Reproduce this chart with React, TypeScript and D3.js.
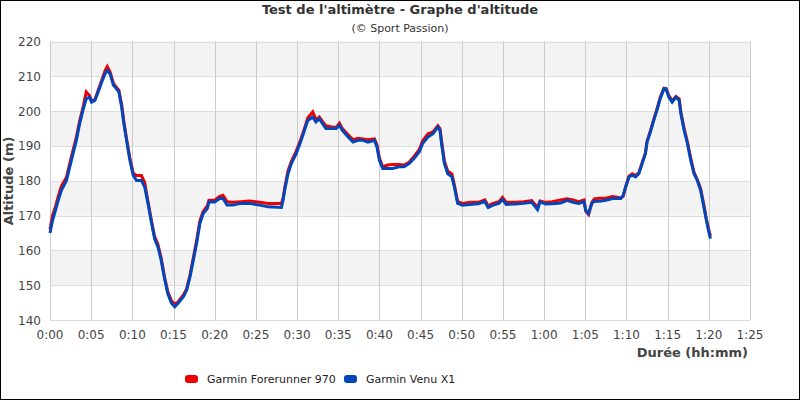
import React from "react";
import * as d3 from "d3";

const minutes = [0.0,0.3,0.6,1.0,1.4,2.0,2.4,2.8,3.2,3.6,4.0,4.4,4.8,5.05,5.45,5.85,6.27,6.67,6.95,7.3,7.7,8.08,8.36,8.7,8.97,9.3,9.7,10.1,10.5,11.1,11.5,11.9,12.3,12.7,13.1,13.5,13.9,14.3,14.75,15.15,15.55,16.2,16.6,17.0,17.4,17.8,18.2,18.6,19.1,19.3,20.0,20.6,21.0,21.5,22.2,23.2,24.2,25.45,26.5,28.1,28.3,28.5,28.9,29.3,29.9,30.5,30.9,31.3,31.9,32.3,32.7,33.1,33.5,34.1,34.75,35.15,35.5,36.2,36.8,37.4,38.0,38.6,39.4,39.7,40.0,40.4,41.0,41.6,42.4,43.0,43.6,44.2,44.85,45.25,45.9,46.5,47.1,47.35,47.6,47.9,48.3,48.8,49.1,49.5,50.1,51.0,52.0,52.8,53.2,53.8,54.5,54.95,55.4,56.5,57.5,58.5,59.2,59.5,60.2,61.0,62.0,62.8,63.5,64.2,64.85,65.05,65.4,65.8,66.1,66.7,67.5,68.3,68.9,69.3,69.6,69.9,70.3,70.7,71.1,71.5,71.9,72.3,72.5,72.9,73.3,73.7,74.1,74.55,74.8,75.15,75.55,76.0,76.4,76.6,77.0,77.4,77.8,78.2,78.6,79.0,79.4,79.7,80.0,80.2];

const venuAlt = [165.0,168.5,171,174.4,177.3,180.1,184,187.8,191.6,196.4,200.2,203.6,204,202.6,203.1,205.5,208.3,210.7,211.7,210.7,207.4,206.4,205.5,201.2,196.4,191.6,185.9,181.6,180.1,180.1,178.2,173.5,168.2,163.4,161,157.2,152,147.6,144.8,143.8,144.8,146.7,148.6,152.4,157.2,162,167.7,170.6,172,173.9,173.9,174.9,174.9,173,173,173.5,173.5,173,172.5,172.3,174.4,177.3,182,184.9,187.8,191.6,194.5,197.3,198.3,196.9,197.8,196.4,195,195,195,195.9,194.5,192.6,191.1,191.6,191.6,191.1,191.6,189.7,185.9,183.5,183.5,183.5,184,184,184.9,186.4,188.3,190.7,192.6,193.5,195.4,194.5,189.7,184.9,182,181.1,178.2,173.5,173,173.2,173.4,174,172.3,173,173.5,174.6,173.2,173.3,173.5,173.8,171.7,173.9,173.3,173.4,173.6,174.4,173.8,173.5,174,171.5,170.6,173.5,174.1,174.1,174.4,174.9,174.9,174.9,175.8,178.2,181.1,181.6,181.1,182,184.9,187.8,191.1,194,197.3,200.2,203.6,206.4,206.4,204,202.6,204,203.1,199.3,194.5,190.7,185.9,182,180.1,177.3,172.5,168.7,165.3,163.4];

const forerunnerAlt = [166.0,170,172,175.5,178.5,181,185,188.8,192.5,197.2,201,205.5,204.5,203.0,203.3,206,208.8,211.5,212.8,211.2,208,206.8,206,201.8,197,192,186.5,182.2,181.5,181.5,179.5,174,168.8,164,161.8,157.8,152.5,148.2,145.5,144.6,145.2,147.2,149,153,157.8,162.8,168.5,171.2,172.8,174.4,174.4,175.5,175.8,174,173.8,174,174.2,173.8,173.5,173.5,175,178,182.8,185.5,188.5,192.2,195,198,199.8,197.5,198.3,197,195.8,195.5,195.3,196.5,195,193.2,191.8,192.2,192,191.8,192,190.3,186.5,184,184.5,184.7,184.7,184.5,185.3,187,189,191.5,193.5,194,195.8,195,190.5,185.5,182.8,182,178.8,174,173.5,173.8,173.8,174.5,172.8,173.5,174,175.2,173.8,173.8,174,174.3,172.3,174.2,173.8,174,174.5,174.8,174.5,174,174.5,171.3,170.3,173.8,174.8,175,175,175.5,175.3,175,175.5,178.2,181.3,182,181.5,182.3,185.2,188,191.3,194.3,197.5,200.6,204,206.6,206.5,204.5,203,204.2,203.5,199.8,195,191.2,186.5,182.5,180.3,177.8,173,169,165.8,164.2];

const yTicks = [140,150,160,170,180,190,200,210,220];
const xTicks = [0,5,10,15,20,25,30,35,40,45,50,55,60,65,70,75,80,85];
const seriesNames = ["Garmin Forerunner 970", "Garmin Venu X1"];
const seriesColors = ["#ee0000", "#0047bb"];

const W = 800, H = 400;
const M = { left: 50, right: 750, top: 41.5, bottom: 320 };
const font = "'DejaVu Sans', Verdana, sans-serif";

function fmt(m: number) {
  const h = Math.floor(m / 60);
  const mm = m % 60;
  return `${h}:${mm < 10 ? "0" + mm : mm}`;
}

export default function App() {
  const x = d3.scaleLinear().domain([0, 85]).range([M.left, M.right]);
  const y = d3.scaleLinear().domain([140, 220]).range([M.bottom, M.top]);
  const line = d3.line<[number, number]>().x(d => x(d[0])).y(d => y(d[1])).curve(d3.curveLinear);
  const redPts: [number, number][] = minutes.map((m, i) => [m, forerunnerAlt[i]]);
  const bluePts: [number, number][] = minutes.map((m, i) => [m, venuAlt[i]]);
  const bands = yTicks.slice(0, -1).map((t, i) => ({ lo: t, hi: yTicks[i + 1], grey: i % 2 === 1 }));

  return (
    <svg width={W} height={H} style={{ position: "absolute", left: 0, top: 0 }} fontFamily={font}>
      <rect x={0.5} y={0.5} width={W - 1} height={H - 1} fill="#fff" stroke="#000" />
      {bands.map((b, i) => (
        <rect key={i} x={M.left} y={y(b.hi)} width={M.right - M.left} height={y(b.lo) - y(b.hi)} fill={b.grey ? "#f3f3f3" : "#fff"} />
      ))}
      {yTicks.map(t => (
        <line key={"yg" + t} x1={M.left} x2={M.right} y1={Math.round(y(t)) + 0.5} y2={Math.round(y(t)) + 0.5} stroke="#dddddd" />
      ))}
      {xTicks.map(t => (
        <line key={"xg" + t} x1={Math.round(x(t)) + 0.5} x2={Math.round(x(t)) + 0.5} y1={M.top} y2={M.bottom} stroke="#cccccc" />
      ))}
      {yTicks.map(t => (
        <text key={"yl" + t} x={41} y={y(t) + 4.5} textAnchor="end" fontSize={12} fill="#444">{t}</text>
      ))}
      {xTicks.map(t => (
        <text key={"xl" + t} x={x(t)} y={339} textAnchor="middle" fontSize={12} fill="#444">{fmt(t)}</text>
      ))}
      <path d={line(redPts) || ""} fill="none" stroke={seriesColors[0]} strokeWidth={3} strokeLinejoin="miter" />
      <path d={line(bluePts) || ""} fill="none" stroke={seriesColors[1]} strokeWidth={3} strokeLinejoin="miter" />
      <text x={400} y={14} textAnchor="middle" fontSize={13} fontWeight="bold" fill="#333">Test de l'altimètre - Graphe d'altitude</text>
      <text x={400} y={32} textAnchor="middle" fontSize={11} fill="#333">(© Sport Passion)</text>
      <text transform={`translate(13,181) rotate(-90)`} textAnchor="middle" fontSize={13} fontWeight="bold" fill="#444">Altitude (m)</text>
      <text x={748} y={357} textAnchor="end" fontSize={13} fontWeight="bold" fill="#444">Durée (hh:mm)</text>
      {seriesNames.map((n, i) => {
        const lx = i === 0 ? 185 : 344;
        return (
          <g key={n}>
            <rect x={lx} y={375} width={13} height={8} rx={3} fill={seriesColors[i]} />
            <text x={lx + 22} y={383} fontSize={11} fill="#222">{n}</text>
          </g>
        );
      })}
    </svg>
  );
}
